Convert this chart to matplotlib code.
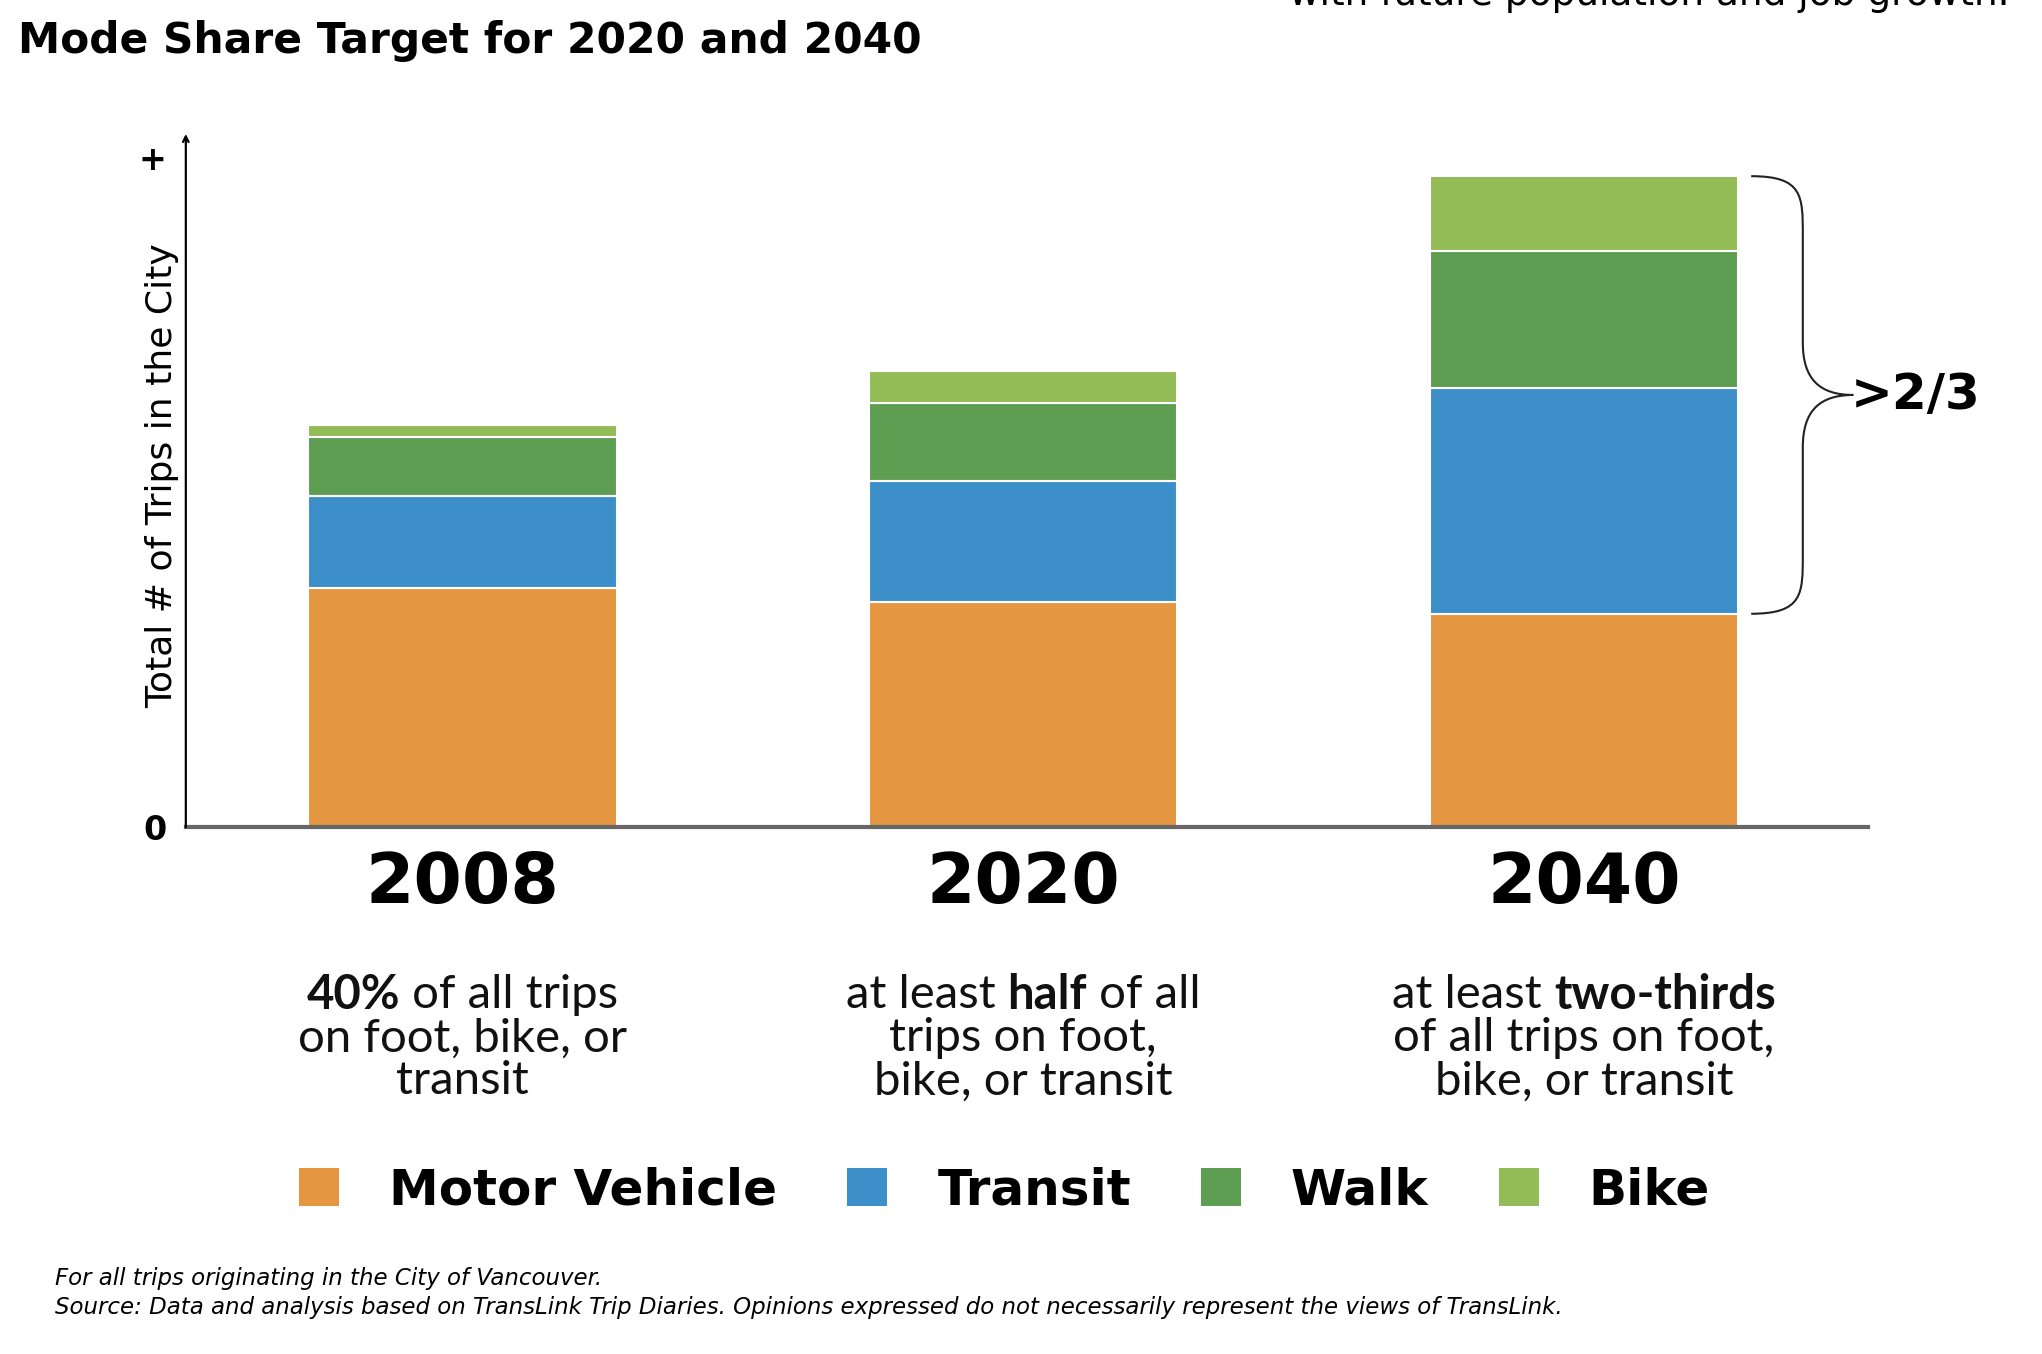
import matplotlib
matplotlib.use("Agg")
import matplotlib.pyplot as plt
from matplotlib.patches import Patch, PathPatch
from matplotlib.path import Path
from matplotlib.transforms import offset_copy

# Daten (in beliebigen Einheiten)
jahre = ["2008", "2020", "2040"]
motor_vehicle = [183, 172, 163]
transit = [70, 92, 172]
walk = [45, 60, 105]
bike = [9, 24, 57]

modi = ["Motor Vehicle", "Transit", "Walk", "Bike"]
farben = ["#E59640", "#3D8FCA", "#5E9E52", "#93BC57"]

beschreibung = [
    [[("40%", "bold"), (" of all trips", "normal")],
     [("on foot, bike, or", "normal")],
     [("transit", "normal")]],
    [[("at least ", "normal"), ("half", "bold"), (" of all", "normal")],
     [("trips on foot,", "normal")],
     [("bike, or transit", "normal")]],
    [[("at least ", "normal"), ("two-thirds", "bold")],
     [("of all trips on foot,", "normal")],
     [("bike, or transit", "normal")]],
]

fig = plt.figure(figsize=(20.42, 13.54), dpi=100)
ax = fig.add_axes([0.091, 0.389, 0.824, 0.507])

x = list(range(len(jahre)))
breite = 0.55
unten = [0, 0, 0]
for werte, name, farbe in zip([motor_vehicle, transit, walk, bike], modi, farben):
    ax.bar(x, werte, breite, bottom=unten, color=farbe, edgecolor="white",
           linewidth=1.5, label=name)
    unten = [u + w for u, w in zip(unten, werte)]

ax.set_xlim(-0.493, 2.507)
ax.set_ylim(0, 524)

# Achsen
for s in ["top", "right", "left"]:
    ax.spines[s].set_visible(False)
ax.spines["bottom"].set_color("#666666")
ax.spines["bottom"].set_linewidth(3)
ax.annotate("", xy=(0, 1.01), xytext=(0, 0), xycoords="axes fraction",
            arrowprops=dict(arrowstyle="->", lw=1.6, color="black",
                            shrinkA=0, shrinkB=0))
ax.set_xticks([])
ax.set_yticks([0, 512])
ax.set_yticklabels(["0", "+"], fontsize=24, fontweight="bold")
ax.tick_params(axis="y", length=0, pad=14)
ax.set_ylabel("Total # of Trips in the City", fontsize=26, fontweight="medium")
ax.yaxis.set_label_coords(-0.004, 0.513)

# Jahreszahlen
for i, j in enumerate(jahre):
    ax.text(i, -43, j, ha="center", va="center", fontsize=50,
            fontweight="bold", clip_on=False)

# Beschreibungen mit teilweise fettem Text
fig.canvas.draw()
renderer = fig.canvas.get_renderer()
zeilen_y = [-128, -161, -194]
for i, block in enumerate(beschreibung):
    for zeile, yy in zip(block, zeilen_y):
        teile = []
        for txt, gew in zeile:
            t = ax.text(i, yy, txt, ha="left", va="center", fontsize=34,
                        family="Lato", fontweight=gew, color="#111111",
                        clip_on=False)
            teile.append(t)
        breiten = [t.get_window_extent(renderer).width for t in teile]
        gesamt = sum(breiten)
        start = -gesamt / 2
        for t, b in zip(teile, breiten):
            t.set_transform(offset_copy(ax.transData, fig, x=start, y=0, units="dots"))
            start += b

# Klammer fuer 2040
oben = unten[2]
unten_k = motor_vehicle[2]
mitte = (oben + unten_k) / 2
x0 = 2 + breite / 2 + 0.023
xv = 2.39
xt = 2.48
verts = [
    (x0, oben), (xv, oben), (xv, oben - 15), (xv, oben - 45),
    (xv, mitte + 40),
    (xv, mitte + 12), (xv + 0.03, mitte), (xt, mitte),
    (xv + 0.03, mitte), (xv, mitte - 12), (xv, mitte - 40),
    (xv, unten_k + 45),
    (xv, unten_k + 15), (xv, unten_k), (x0, unten_k),
]
codes = [Path.MOVETO, Path.CURVE4, Path.CURVE4, Path.CURVE4,
         Path.LINETO,
         Path.CURVE4, Path.CURVE4, Path.CURVE4,
         Path.CURVE4, Path.CURVE4, Path.CURVE4,
         Path.LINETO,
         Path.CURVE4, Path.CURVE4, Path.CURVE4]
ax.add_patch(PathPatch(Path(verts, codes), fill=False, lw=1.5,
                       edgecolor="#222222", clip_on=False))
ax.text(xt - 0.005, mitte, ">2/3", ha="left", va="center", fontsize=36,
        fontweight="bold", clip_on=False)

# Legende
handles = [Patch(facecolor=f, edgecolor="none") for f in farben]
fig.legend(handles, modi, loc="center", bbox_to_anchor=(0.492, 0.121),
           ncol=4, frameon=False, handlelength=0.8,
           handleheight=0.8, handletextpad=1.0, columnspacing=1.4,
           prop={"size": 36, "weight": "semibold"})

# Titel und Texte
fig.text(0.009, 0.970, "Mode Share Target for 2020 and 2040", fontsize=30.5,
         fontweight="bold", va="center", ha="left")
fig.text(0.631, 0.996, "with future population and job growth.", fontsize=27,
         va="baseline", ha="left")
fig.text(0.027, 0.056, "For all trips originating in the City of Vancouver.",
         fontsize=16.5, style="italic", va="center")
fig.text(0.027, 0.034, "Source: Data and analysis based on TransLink Trip Diaries. "
         "Opinions expressed do not necessarily represent the views of TransLink.",
         fontsize=16.5, style="italic", va="center")

fig.savefig("out.png", dpi=100)
